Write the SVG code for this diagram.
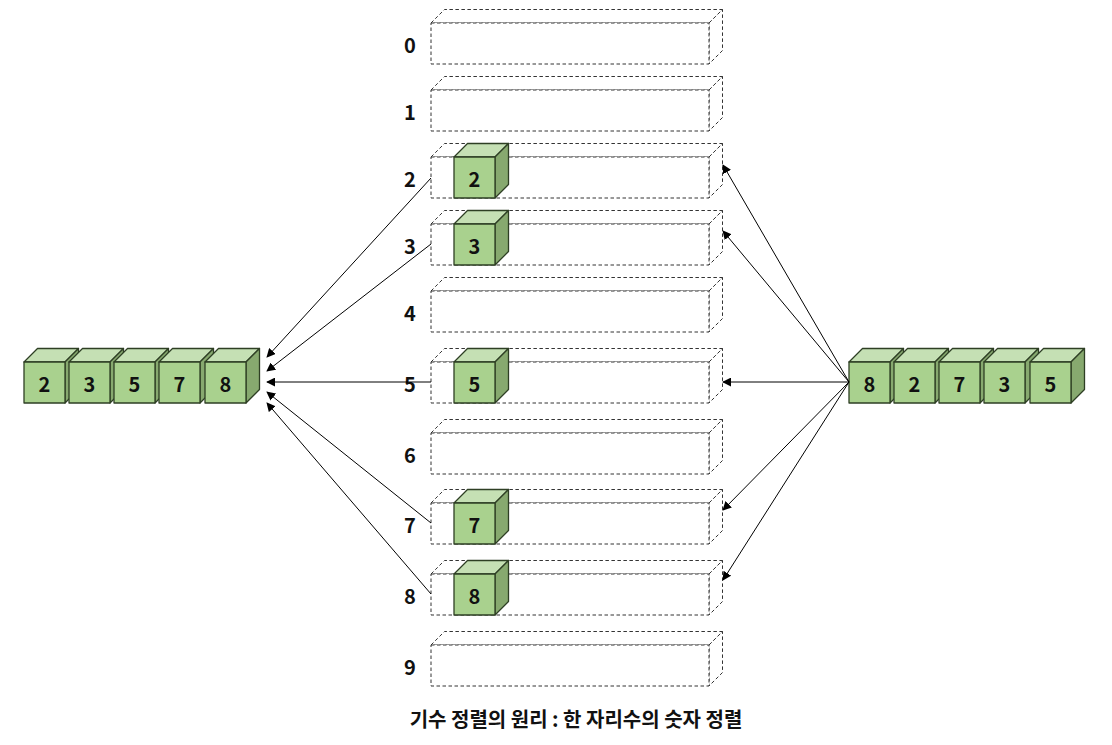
<svg xmlns="http://www.w3.org/2000/svg" width="1112" height="745" viewBox="0 0 1112 745">
<defs>
<style>
.bk{fill:#fff;stroke:#333;stroke-width:1;stroke-dasharray:3.5,2.5}
.cf{fill:#A9D18E;stroke:#2E3F24;stroke-width:1.3;stroke-linejoin:round}
.ct{fill:#C5E0B4;stroke:#2E3F24;stroke-width:1.3;stroke-linejoin:round}
.cs{fill:#87A96F;stroke:#2E3F24;stroke-width:1.3;stroke-linejoin:round}
.num{font-family:"Noto Sans CJK KR","Noto Sans",sans-serif;font-weight:bold;font-size:20px;fill:#111;text-anchor:middle;dominant-baseline:central}
.lbl{font-family:"Noto Sans CJK KR","Noto Sans",sans-serif;font-weight:bold;font-size:20px;fill:#111;text-anchor:middle;dominant-baseline:central}
.cap{font-family:"Noto Sans CJK KR",sans-serif;font-weight:bold;font-size:20px;fill:#111;text-anchor:middle;dominant-baseline:central}
.ar{stroke:#000;stroke-width:1;fill:none;marker-end:url(#ah)}
</style>
<marker id="ah" viewBox="0 0 10 10" refX="9" refY="5" markerWidth="9" markerHeight="9" markerUnits="userSpaceOnUse" orient="auto">
<path d="M0,0 L10,5 L0,10 Z" fill="#000"/>
</marker>
<g id="bucketShape">
<path class="bk" d="M0,0 L13.5,-13.5 L291.5,-13.5 L278,0 Z"/>
<path class="bk" d="M278,0 L291.5,-13.5 L291.5,27.5 L278,41 Z"/>
<rect class="bk" x="0" y="0" width="278" height="41"/>
</g>
<g id="cube">
<path class="ct" d="M0,0 L13.5,-13.5 L54.5,-13.5 L41,0 Z"/>
<path class="cs" d="M41,0 L54.5,-13.5 L54.5,27.5 L41,41 Z"/>
<rect class="cf" x="0" y="0" width="41" height="41"/>
</g>
</defs>
<rect width="1112" height="745" fill="#fff"/>

<g id="bucket-0"><use href="#bucketShape" x="431" y="23"/><text class="lbl" x="410" y="44">0</text></g>
<g id="bucket-1"><use href="#bucketShape" x="431" y="90"/><text class="lbl" x="410" y="111">1</text></g>
<g id="bucket-2"><use href="#bucketShape" x="431" y="157"/><text class="lbl" x="410" y="178">2</text>
<use href="#cube" x="454" y="157"/><text class="num" x="474.5" y="178">2</text></g>
<g id="bucket-3"><use href="#bucketShape" x="431" y="224"/><text class="lbl" x="410" y="245">3</text>
<use href="#cube" x="454" y="224"/><text class="num" x="474.5" y="245">3</text></g>
<g id="bucket-4"><use href="#bucketShape" x="431" y="291"/><text class="lbl" x="410" y="312">4</text></g>
<g id="bucket-5"><use href="#bucketShape" x="431" y="362"/><text class="lbl" x="410" y="383">5</text>
<use href="#cube" x="454" y="362"/><text class="num" x="474.5" y="383">5</text></g>
<g id="bucket-6"><use href="#bucketShape" x="431" y="433"/><text class="lbl" x="410" y="454">6</text></g>
<g id="bucket-7"><use href="#bucketShape" x="431" y="503"/><text class="lbl" x="410" y="524">7</text>
<use href="#cube" x="454" y="503"/><text class="num" x="474.5" y="524">7</text></g>
<g id="bucket-8"><use href="#bucketShape" x="431" y="574"/><text class="lbl" x="410" y="595">8</text>
<use href="#cube" x="454" y="574"/><text class="num" x="474.5" y="595">8</text></g>
<g id="bucket-9"><use href="#bucketShape" x="431" y="645"/><text class="lbl" x="410" y="666">9</text></g>

<g id="sorted">
<use href="#cube" x="24" y="362"/><text class="num" x="44.5" y="383">2</text>
<use href="#cube" x="69" y="362"/><text class="num" x="89.5" y="383">3</text>
<use href="#cube" x="114" y="362"/><text class="num" x="134.5" y="383">5</text>
<use href="#cube" x="159" y="362"/><text class="num" x="179.5" y="383">7</text>
<use href="#cube" x="205" y="362"/><text class="num" x="225.5" y="383">8</text>
</g>

<g id="input">
<use href="#cube" x="849" y="362"/><text class="num" x="869.5" y="383">8</text>
<use href="#cube" x="894" y="362"/><text class="num" x="914.5" y="383">2</text>
<use href="#cube" x="939" y="362"/><text class="num" x="959.5" y="383">7</text>
<use href="#cube" x="984" y="362"/><text class="num" x="1004.5" y="383">3</text>
<use href="#cube" x="1030" y="362"/><text class="num" x="1050.5" y="383">5</text>
</g>

<g id="connectors">
<line class="ar" x1="431" y1="178" x2="267" y2="357"/>
<line class="ar" x1="431" y1="244" x2="267" y2="371"/>
<line class="ar" x1="431" y1="382" x2="267" y2="382"/>
<line class="ar" x1="431" y1="523" x2="267" y2="392"/>
<line class="ar" x1="431" y1="594" x2="267" y2="403"/>
<line class="ar" x1="849" y1="382" x2="723" y2="165"/>
<line class="ar" x1="849" y1="382" x2="723" y2="231"/>
<line class="ar" x1="849" y1="382" x2="723" y2="382"/>
<line class="ar" x1="849" y1="382" x2="723" y2="510"/>
<line class="ar" x1="849" y1="382" x2="723" y2="580"/>
</g>

<text id="caption" class="cap" x="576" y="718">기수 정렬의 원리 : 한 자리수의 숫자 정렬</text>
</svg>
